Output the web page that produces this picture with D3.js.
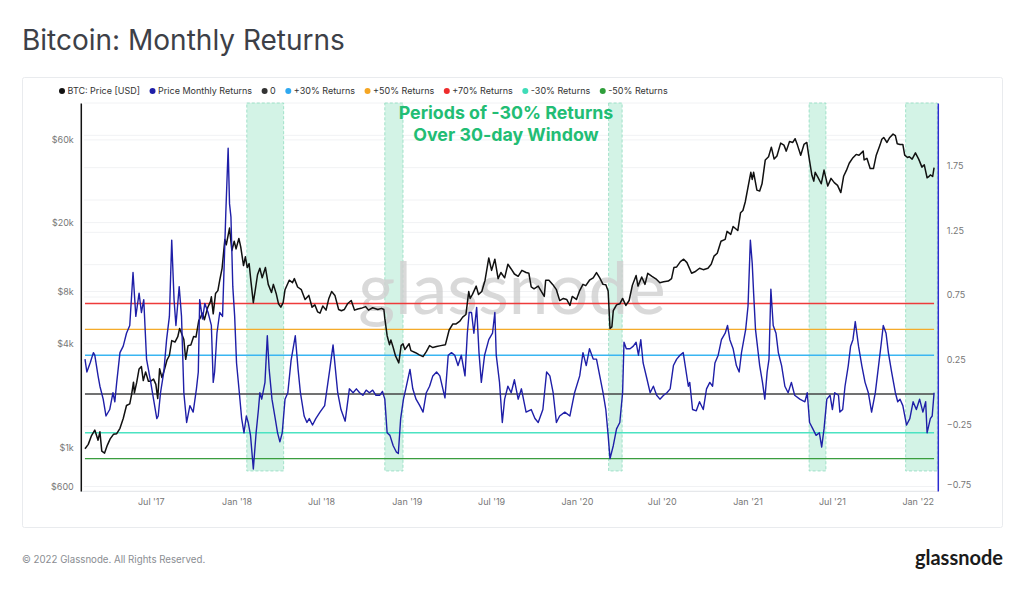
<!DOCTYPE html>
<html>
<head>
<meta charset="utf-8">
<script src="https://cdn.jsdelivr.net/npm/d3@7"></script>
<style>
  body { margin: 0; background: #fff; }
  svg { font-family: Inter, Roboto, "Noto Sans", sans-serif; }
</style>
</head>
<body>
<div id="chart"></div>
<script>
// BTC price (USD)
const pricePoints = [
  ["2017-02-10", 990], ["2017-02-17", 1050], ["2017-02-24", 1180], ["2017-03-03", 1270],
  ["2017-03-10", 1110], ["2017-03-14", 1240], ["2017-03-18", 960], ["2017-03-24", 935],
  ["2017-03-30", 1040], ["2017-04-05", 1130], ["2017-04-12", 1200], ["2017-04-19", 1210],
  ["2017-04-26", 1300], ["2017-05-03", 1480], ["2017-05-10", 1760], ["2017-05-17", 1800],
  ["2017-05-21", 2040], ["2017-05-25", 2400], ["2017-05-27", 2080], ["2017-06-01", 2400],
  ["2017-06-06", 2860], ["2017-06-11", 2950], ["2017-06-15", 2450], ["2017-06-20", 2750],
  ["2017-06-26", 2430], ["2017-07-01", 2430], ["2017-07-07", 2500], ["2017-07-12", 2330],
  ["2017-07-16", 1930], ["2017-07-20", 2870], ["2017-07-25", 2550], ["2017-07-31", 2880],
  ["2017-08-05", 3230], ["2017-08-10", 3420], ["2017-08-15", 4170], ["2017-08-22", 4090],
  ["2017-08-28", 4390], ["2017-09-01", 4900], ["2017-09-05", 4600], ["2017-09-10", 4230],
  ["2017-09-14", 3250], ["2017-09-19", 3900], ["2017-09-25", 3930], ["2017-10-01", 4400],
  ["2017-10-06", 4370], ["2017-10-12", 5440], ["2017-10-16", 5700], ["2017-10-20", 6000],
  ["2017-10-24", 5500], ["2017-10-31", 6450], ["2017-11-06", 7000], ["2017-11-08", 7460],
  ["2017-11-12", 5950], ["2017-11-17", 7800], ["2017-11-22", 8100], ["2017-11-26", 9300],
  ["2017-12-01", 10900], ["2017-12-07", 16000], ["2017-12-10", 14900], ["2017-12-17", 18600],
  ["2017-12-22", 13800], ["2017-12-27", 15600], ["2017-12-31", 14100], ["2018-01-06", 16200],
  ["2018-01-10", 14500], ["2018-01-16", 11300], ["2018-01-20", 12700], ["2018-01-24", 11000],
  ["2018-01-28", 11600], ["2018-02-01", 9100], ["2018-02-06", 6900], ["2018-02-10", 8100],
  ["2018-02-15", 10000], ["2018-02-20", 10900], ["2018-02-25", 9600], ["2018-03-04", 11000],
  ["2018-03-10", 8800], ["2018-03-17", 7900], ["2018-03-21", 8800], ["2018-03-27", 7800],
  ["2018-04-01", 6800], ["2018-04-06", 6500], ["2018-04-11", 6900], ["2018-04-15", 8200],
  ["2018-04-24", 9300], ["2018-05-01", 9000], ["2018-05-05", 9500], ["2018-05-12", 8500],
  ["2018-05-20", 8200], ["2018-05-28", 7200], ["2018-06-05", 7600], ["2018-06-12", 6500],
  ["2018-06-18", 6700], ["2018-06-24", 6100], ["2018-06-29", 6000], ["2018-07-05", 6600],
  ["2018-07-12", 6250], ["2018-07-18", 7300], ["2018-07-24", 8000], ["2018-07-31", 7600],
  ["2018-08-08", 6300], ["2018-08-14", 6200], ["2018-08-20", 6300], ["2018-08-27", 6800],
  ["2018-09-04", 7100], ["2018-09-11", 6250], ["2018-09-18", 6350], ["2018-09-25", 6400],
  ["2018-10-05", 6550], ["2018-10-11", 6250], ["2018-10-20", 6450], ["2018-10-31", 6300],
  ["2018-11-08", 6400], ["2018-11-13", 6300], ["2018-11-15", 5600], ["2018-11-20", 4450],
  ["2018-11-25", 3950], ["2018-11-28", 4200], ["2018-12-03", 3800], ["2018-12-08", 3400],
  ["2018-12-15", 3100], ["2018-12-20", 3900], ["2018-12-24", 4000], ["2018-12-28", 3700],
  ["2019-01-06", 4000], ["2019-01-10", 3650], ["2019-01-20", 3550], ["2019-01-28", 3450],
  ["2019-02-05", 3370], ["2019-02-12", 3600], ["2019-02-19", 3900], ["2019-02-26", 3800],
  ["2019-03-06", 3850], ["2019-03-15", 3900], ["2019-03-25", 3950], ["2019-04-02", 4800],
  ["2019-04-10", 5200], ["2019-04-17", 5200], ["2019-04-25", 5400], ["2019-05-01", 5700],
  ["2019-05-08", 5900], ["2019-05-14", 8000], ["2019-05-17", 7300], ["2019-05-22", 7700],
  ["2019-05-30", 8600], ["2019-06-04", 7700], ["2019-06-11", 8000], ["2019-06-18", 9300],
  ["2019-06-26", 12500], ["2019-07-02", 10600], ["2019-07-09", 12300], ["2019-07-16", 9500],
  ["2019-07-22", 10300], ["2019-07-30", 9600], ["2019-08-06", 11500], ["2019-08-13", 10800],
  ["2019-08-20", 10100], ["2019-08-28", 9800], ["2019-09-05", 10600], ["2019-09-14", 10300],
  ["2019-09-20", 10200], ["2019-09-25", 8500], ["2019-10-01", 8300], ["2019-10-10", 8600],
  ["2019-10-23", 7500], ["2019-10-26", 9300], ["2019-11-02", 9300], ["2019-11-10", 8800],
  ["2019-11-18", 8200], ["2019-11-25", 7100], ["2019-12-03", 7300], ["2019-12-10", 7200],
  ["2019-12-17", 6650], ["2019-12-22", 7500], ["2019-12-31", 7200], ["2020-01-07", 8100],
  ["2020-01-14", 8800], ["2020-01-20", 8650], ["2020-01-28", 9300], ["2020-02-05", 9600],
  ["2020-02-12", 10300], ["2020-02-19", 9600], ["2020-02-26", 8800], ["2020-03-03", 8750],
  ["2020-03-08", 8050], ["2020-03-12", 4900], ["2020-03-16", 5000], ["2020-03-19", 6200],
  ["2020-03-26", 6700], ["2020-04-02", 6800], ["2020-04-08", 7300], ["2020-04-15", 6650],
  ["2020-04-22", 7100], ["2020-04-29", 8700], ["2020-05-07", 9900], ["2020-05-11", 8600],
  ["2020-05-19", 9700], ["2020-05-26", 8800], ["2020-06-01", 10200], ["2020-06-10", 9800],
  ["2020-06-20", 9400], ["2020-06-27", 9000], ["2020-07-05", 9100], ["2020-07-15", 9200],
  ["2020-07-22", 9500], ["2020-07-27", 11000], ["2020-08-02", 11100], ["2020-08-10", 11900],
  ["2020-08-17", 12300], ["2020-08-24", 11750], ["2020-09-03", 10200], ["2020-09-10", 10400],
  ["2020-09-20", 10900], ["2020-09-28", 10700], ["2020-10-08", 10900], ["2020-10-15", 11500],
  ["2020-10-21", 12800], ["2020-10-28", 13300], ["2020-11-05", 15600], ["2020-11-14", 16000],
  ["2020-11-18", 17800], ["2020-11-26", 17100], ["2020-12-01", 19000], ["2020-12-11", 18000],
  ["2020-12-17", 22800], ["2020-12-22", 23500], ["2020-12-27", 26300], ["2021-01-02", 32000],
  ["2021-01-08", 39000], ["2021-01-11", 35500], ["2021-01-14", 39000], ["2021-01-21", 30800],
  ["2021-01-27", 30400], ["2021-02-01", 33500], ["2021-02-08", 46000], ["2021-02-15", 48000],
  ["2021-02-21", 54500], ["2021-02-27", 46500], ["2021-03-05", 48500], ["2021-03-13", 57500],
  ["2021-03-20", 56000], ["2021-03-25", 51700], ["2021-04-01", 58700], ["2021-04-08", 58000],
  ["2021-04-13", 61000], ["2021-04-18", 56000], ["2021-04-25", 49000], ["2021-05-02", 56500],
  ["2021-05-08", 58000], ["2021-05-12", 49000], ["2021-05-19", 37500], ["2021-05-23", 34700],
  ["2021-05-26", 39000], ["2021-06-01", 36500], ["2021-06-08", 33500], ["2021-06-14", 40200],
  ["2021-06-22", 32500], ["2021-06-29", 36000], ["2021-07-06", 34000], ["2021-07-13", 32800],
  ["2021-07-20", 29800], ["2021-07-26", 37000], ["2021-08-01", 40000], ["2021-08-07", 44000],
  ["2021-08-14", 47000], ["2021-08-22", 49500], ["2021-08-28", 48900], ["2021-09-06", 51700],
  ["2021-09-08", 46000], ["2021-09-14", 47000], ["2021-09-21", 41000], ["2021-09-28", 41000],
  ["2021-10-04", 49000], ["2021-10-12", 56000], ["2021-10-16", 60500], ["2021-10-20", 62000],
  ["2021-10-27", 58000], ["2021-11-02", 62000], ["2021-11-09", 64800], ["2021-11-14", 63500],
  ["2021-11-18", 57000], ["2021-11-24", 56500], ["2021-11-30", 56500], ["2021-12-04", 49000],
  ["2021-12-10", 47500], ["2021-12-14", 48000], ["2021-12-20", 46500], ["2021-12-27", 50500],
  ["2022-01-03", 46500], ["2022-01-10", 41800], ["2022-01-15", 43100], ["2022-01-21", 36300],
  ["2022-01-24", 36700], ["2022-01-28", 37700], ["2022-02-02", 36900], ["2022-02-05", 41500]
];

// Price monthly (30-day) returns
const returnPoints = [
  ["2017-02-10", 0.27], ["2017-02-14", 0.17], ["2017-02-21", 0.24], ["2017-02-28", 0.32],
  ["2017-03-03", 0.30], ["2017-03-10", 0.14], ["2017-03-14", 0.06], ["2017-03-21", -0.04],
  ["2017-03-27", -0.17], ["2017-04-04", -0.12], ["2017-04-11", 0.01], ["2017-04-15", -0.06],
  ["2017-04-19", 0.09], ["2017-04-26", 0.32], ["2017-05-03", 0.37], ["2017-05-10", 0.47],
  ["2017-05-17", 0.53], ["2017-05-24", 0.94], ["2017-05-30", 0.60], ["2017-06-06", 0.78],
  ["2017-06-11", 0.63], ["2017-06-16", 0.73], ["2017-06-22", 0.27], ["2017-06-26", 0.19],
  ["2017-07-01", 0.09], ["2017-07-07", -0.04], ["2017-07-14", -0.19], ["2017-07-17", -0.17],
  ["2017-07-22", 0.01], ["2017-07-29", 0.17], ["2017-08-04", 0.42], ["2017-08-10", 0.60],
  ["2017-08-15", 1.19], ["2017-08-20", 0.73], ["2017-08-24", 0.53], ["2017-08-31", 0.83],
  ["2017-09-05", 0.60], ["2017-09-10", 0.01], ["2017-09-16", -0.22], ["2017-09-23", -0.09],
  ["2017-09-30", -0.14], ["2017-10-07", 0.04], ["2017-10-11", 0.17], ["2017-10-14", 0.73],
  ["2017-10-20", 0.58], ["2017-10-25", 0.70], ["2017-11-01", 0.63], ["2017-11-08", 0.53],
  ["2017-11-12", 0.09], ["2017-11-15", 0.17], ["2017-11-20", 0.47], ["2017-11-26", 0.63],
  ["2017-12-02", 0.60], ["2017-12-09", 1.40], ["2017-12-14", 1.90], ["2017-12-17", 1.47],
  ["2017-12-20", 1.37], ["2017-12-24", 0.83], ["2017-12-28", 0.60], ["2018-01-01", 0.24],
  ["2018-01-07", 0.01], ["2018-01-12", -0.19], ["2018-01-17", -0.30], ["2018-01-22", -0.17],
  ["2018-01-26", -0.22], ["2018-01-31", -0.32], ["2018-02-06", -0.58], ["2018-02-12", -0.30],
  ["2018-02-17", -0.12], ["2018-02-20", 0.01], ["2018-02-24", -0.04], ["2018-03-03", 0.09],
  ["2018-03-08", 0.45], ["2018-03-12", 0.19], ["2018-03-18", -0.04], ["2018-03-25", -0.19],
  ["2018-03-30", -0.30], ["2018-04-04", -0.37], ["2018-04-09", -0.30], ["2018-04-15", -0.04],
  ["2018-04-21", 0.01], ["2018-04-28", 0.26], ["2018-05-07", 0.45], ["2018-05-13", 0.19],
  ["2018-05-18", 0.01], ["2018-05-26", -0.17], ["2018-06-01", -0.22], ["2018-06-06", -0.19],
  ["2018-06-13", -0.24], ["2018-06-20", -0.19], ["2018-06-29", -0.14], ["2018-07-09", -0.09],
  ["2018-07-20", 0.19], ["2018-07-27", 0.38], ["2018-08-06", 0.01], ["2018-08-13", -0.12],
  ["2018-08-22", -0.21], ["2018-08-31", 0.04], ["2018-09-08", 0.01], ["2018-09-15", 0.04],
  ["2018-09-22", 0.01], ["2018-09-29", -0.01], ["2018-10-06", 0.03], ["2018-10-13", 0.01],
  ["2018-10-20", 0.03], ["2018-10-27", -0.01], ["2018-11-04", -0.01], ["2018-11-10", 0.02],
  ["2018-11-15", -0.04], ["2018-11-20", -0.30], ["2018-11-26", -0.32], ["2018-12-03", -0.40],
  ["2018-12-10", -0.45], ["2018-12-14", -0.46], ["2018-12-19", -0.19], ["2018-12-25", -0.04],
  ["2018-12-30", 0.04], ["2019-01-08", 0.19], ["2019-01-14", 0.04], ["2019-01-21", -0.04],
  ["2019-01-29", -0.09], ["2019-02-05", -0.14], ["2019-02-12", 0.01], ["2019-02-19", 0.06],
  ["2019-02-26", 0.14], ["2019-03-06", 0.17], ["2019-03-13", 0.14], ["2019-03-24", -0.03],
  ["2019-03-31", 0.30], ["2019-04-07", 0.32], ["2019-04-14", 0.30], ["2019-04-21", 0.22],
  ["2019-04-28", 0.30], ["2019-05-06", 0.14], ["2019-05-11", 0.47], ["2019-05-15", 0.63],
  ["2019-05-20", 0.63], ["2019-05-25", 0.47], ["2019-05-31", 0.67], ["2019-06-05", 0.32],
  ["2019-06-10", 0.09], ["2019-06-17", 0.30], ["2019-06-26", 0.42], ["2019-07-04", 0.47],
  ["2019-07-09", 0.63], ["2019-07-12", 0.30], ["2019-07-19", 0.09], ["2019-07-25", -0.22],
  ["2019-07-30", -0.04], ["2019-08-06", 0.06], ["2019-08-13", 0.01], ["2019-08-20", 0.11],
  ["2019-08-28", -0.04], ["2019-09-04", 0.04], ["2019-09-14", -0.14], ["2019-09-25", -0.12],
  ["2019-10-03", -0.19], ["2019-10-10", -0.22], ["2019-10-20", -0.12], ["2019-10-28", 0.17],
  ["2019-11-04", 0.14], ["2019-11-11", 0.01], ["2019-11-18", -0.22], ["2019-11-25", -0.17],
  ["2019-12-06", -0.14], ["2019-12-17", -0.17], ["2019-12-27", 0.01], ["2020-01-07", 0.14],
  ["2020-01-14", 0.32], ["2020-01-21", 0.22], ["2020-01-28", 0.35], ["2020-02-05", 0.27],
  ["2020-02-12", 0.27], ["2020-02-19", 0.14], ["2020-02-26", 0.01], ["2020-03-03", -0.12],
  ["2020-03-08", -0.32], ["2020-03-12", -0.50], ["2020-03-19", -0.40], ["2020-03-26", -0.27],
  ["2020-04-02", -0.22], ["2020-04-08", 0.01], ["2020-04-11", 0.40], ["2020-04-16", 0.35],
  ["2020-04-24", 0.35], ["2020-05-01", 0.37], ["2020-05-07", 0.40], ["2020-05-12", 0.30],
  ["2020-05-17", 0.42], ["2020-05-22", 0.24], ["2020-05-30", 0.12], ["2020-06-06", 0.01],
  ["2020-06-13", 0.06], ["2020-06-20", -0.01], ["2020-06-27", -0.04], ["2020-07-05", -0.01],
  ["2020-07-12", 0.01], ["2020-07-19", 0.04], ["2020-07-26", 0.22], ["2020-08-02", 0.27],
  ["2020-08-09", 0.30], ["2020-08-16", 0.32], ["2020-08-27", 0.06], ["2020-08-30", 0.09],
  ["2020-09-05", -0.12], ["2020-09-13", -0.13], ["2020-09-20", -0.06], ["2020-09-28", -0.12],
  ["2020-10-05", 0.04], ["2020-10-12", 0.09], ["2020-10-18", 0.06], ["2020-10-23", 0.24],
  ["2020-10-30", 0.30], ["2020-11-06", 0.42], ["2020-11-14", 0.47], ["2020-11-19", 0.53],
  ["2020-11-24", 0.42], ["2020-12-01", 0.35], ["2020-12-08", 0.22], ["2020-12-14", 0.17],
  ["2020-12-19", 0.32], ["2020-12-24", 0.42], ["2020-12-28", 0.50], ["2021-01-02", 0.68],
  ["2021-01-07", 1.19], ["2021-01-11", 1.01], ["2021-01-14", 0.78], ["2021-01-18", 0.50],
  ["2021-01-27", 0.22], ["2021-02-02", 0.09], ["2021-02-07", -0.04], ["2021-02-12", 0.17],
  ["2021-02-16", 0.27], ["2021-02-20", 0.81], ["2021-02-25", 0.53], ["2021-03-03", 0.47],
  ["2021-03-08", 0.32], ["2021-03-15", 0.22], ["2021-03-22", 0.06], ["2021-03-29", 0.01],
  ["2021-04-05", 0.09], ["2021-04-12", -0.01], ["2021-04-23", -0.04], ["2021-05-04", -0.06],
  ["2021-05-09", 0.01], ["2021-05-14", -0.22], ["2021-05-21", -0.27], ["2021-05-28", -0.32],
  ["2021-06-04", -0.30], ["2021-06-09", -0.41], ["2021-06-14", -0.27], ["2021-06-20", -0.04],
  ["2021-06-27", -0.01], ["2021-07-02", -0.12], ["2021-07-07", 0.01], ["2021-07-15", -0.01],
  ["2021-07-18", -0.14], ["2021-07-24", -0.12], ["2021-07-29", 0.06], ["2021-08-05", 0.22],
  ["2021-08-10", 0.37], ["2021-08-15", 0.42], ["2021-08-20", 0.56], ["2021-08-27", 0.37],
  ["2021-09-03", 0.22], ["2021-09-10", 0.09], ["2021-09-17", 0.01], ["2021-09-24", -0.14],
  ["2021-10-02", 0.01], ["2021-10-09", 0.22], ["2021-10-15", 0.40], ["2021-10-19", 0.53],
  ["2021-10-25", 0.47], ["2021-10-30", 0.32], ["2021-11-06", 0.17], ["2021-11-14", 0.01],
  ["2021-11-19", -0.06], ["2021-11-24", -0.04], ["2021-11-30", -0.09], ["2021-12-08", -0.24],
  ["2021-12-15", -0.19], ["2021-12-22", -0.06], ["2021-12-29", -0.12], ["2022-01-05", -0.04],
  ["2022-01-12", -0.14], ["2022-01-18", -0.06], ["2022-01-21", -0.30], ["2022-01-28", -0.19],
  ["2022-02-01", -0.17], ["2022-02-05", 0.01]
];

// periods of -30% returns over a 30-day window
const bandPeriods = [
  ["2018-01-23", "2018-04-12"], ["2018-11-15", "2018-12-24"], ["2020-03-09", "2020-04-07"],
  ["2021-05-13", "2021-06-18"], ["2021-12-06", "2022-02-12"]
];
const bandValueRange = [-0.595, 2.25];

const refLevels = [0.7, 0.5, 0.3, 0, -0.3, -0.5];
const priceTicks = [600, 1000, 4000, 8000, 20000, 60000];
const priceTickLabels = ["$600", "$1k", "$4k", "$8k", "$20k", "$60k"];
const returnTicks = [-0.75, -0.25, 0.25, 0.75, 1.25, 1.75];
const xTickDates = ["2017-07-01", "2018-01-01", "2018-07-01", "2019-01-01", "2019-07-01",
  "2020-01-01", "2020-07-01", "2021-01-01", "2021-07-01", "2022-01-01"];
const legendLabels = ["BTC: Price [USD]", "Price Monthly Returns", "0", "+30% Returns",
  "+50% Returns", "+70% Returns", "-30% Returns", "-50% Returns"];

// styles
const legendColors = ["#111111", "#1f1fa8", "#333333", "#2fa8f0", "#f5a623", "#ee2c2c", "#3fdcb8", "#2f9e3a"];
const refColors = { "0.7": "#ee3b3b", "0.5": "#f5ab2a", "0.3": "#3ab6f2", "0": "#444444", "-0.3": "#4be3c2", "-0.5": "#3a9e3f" };

const parse = d3.utcParse("%Y-%m-%d");
const W = 1024, H = 590;
const m = { left: 80.8, right: 937.8, top: 103, bottom: 491 };

const svg = d3.select("#chart").append("svg")
  .attr("width", W).attr("height", H)
  .attr("viewBox", "0 0 " + W + " " + H);

svg.append("rect").attr("width", W).attr("height", H).attr("fill", "#fff");

// title
svg.append("text").text("Bitcoin: Monthly Returns")
  .attr("x", 22).attr("y", 50)
  .attr("font-size", 28).attr("fill", "#3d4047");

// card
svg.append("rect")
  .attr("x", 22.5).attr("y", 77.5).attr("width", 980).attr("height", 450)
  .attr("rx", 2).attr("fill", "#fff").attr("stroke", "#e9ebee");

const x = d3.scaleUtc()
  .domain([parse("2017-02-01"), parse("2022-02-13")])
  .range([m.left, m.right]);
const yPrice = d3.scaleLog().domain([565, 98000]).range([m.bottom, m.top]);
const yRet = d3.scaleLinear().domain([-0.75, 2.25]).range([m.bottom, m.top]);

// gridlines
const grid = svg.append("g");
grid.selectAll("line.r").data(d3.range(-0.75, 2.26, 0.25)).enter().append("line")
  .attr("x1", m.left + 3).attr("x2", m.right - 3)
  .attr("y1", d => yRet(d)).attr("y2", d => yRet(d))
  .attr("stroke", "#f1f2f4").attr("stroke-width", 1);
grid.selectAll("line.p").data(priceTicks).enter().append("line")
  .attr("x1", m.left + 3).attr("x2", m.right - 3)
  .attr("y1", d => yPrice(d)).attr("y2", d => yPrice(d))
  .attr("stroke", "#f1f2f4").attr("stroke-width", 1);

// x baseline
svg.append("line")
  .attr("x1", m.left).attr("x2", m.right)
  .attr("y1", m.bottom + 0.5).attr("y2", m.bottom + 0.5)
  .attr("stroke", "#e6e8eb");

// shaded periods
svg.append("g").selectAll("rect").data(bandPeriods).enter().append("rect")
  .attr("x", d => x(parse(d[0])))
  .attr("width", d => x(parse(d[1])) - x(parse(d[0])))
  .attr("y", yRet(bandValueRange[1]))
  .attr("height", yRet(bandValueRange[0]) - yRet(bandValueRange[1]))
  .attr("fill", "#d3f3e6")
  .attr("stroke", "#8fdcbf").attr("stroke-width", 0.8)
  .attr("stroke-dasharray", "3,2");

// watermark
svg.append("text").text("glassnode")
  .attr("x", 512).attr("y", 314)
  .attr("text-anchor", "middle")
  .attr("font-family", "Lato, sans-serif")
  .attr("font-size", 71)
  .attr("fill", "#d0d0d0").attr("opacity", 0.8);

const firstDate = parse(returnPoints[0][0]);
const lastDate = parse(returnPoints[returnPoints.length - 1][0]);

// reference levels
svg.append("g").selectAll("line").data(refLevels).enter().append("line")
  .attr("x1", x(firstDate)).attr("x2", x(lastDate))
  .attr("y1", d => yRet(d)).attr("y2", d => yRet(d))
  .attr("stroke", d => refColors[String(d)])
  .attr("stroke-width", 1.4);

// price line
const priceLine = d3.line()
  .x(d => x(parse(d[0])))
  .y(d => yPrice(d[1]));
svg.append("path").datum(pricePoints)
  .attr("d", priceLine)
  .attr("fill", "none").attr("stroke", "#111").attr("stroke-width", 1.5)
  .attr("stroke-linejoin", "round");

// returns line
const retLine = d3.line()
  .x(d => x(parse(d[0])))
  .y(d => yRet(d[1]));
svg.append("path").datum(returnPoints)
  .attr("d", retLine)
  .attr("fill", "none").attr("stroke", "#1f1fa8").attr("stroke-width", 1.4)
  .attr("stroke-linejoin", "round");

// left axis (price, log)
const leftAxis = svg.append("g")
  .attr("transform", "translate(" + m.left + ",0)")
  .call(d3.axisLeft(yPrice).tickValues(priceTicks)
    .tickFormat((d, i) => priceTickLabels[i]).tickSize(0).tickPadding(7));
leftAxis.select(".domain").attr("stroke", "#111").attr("stroke-width", 1.5);
leftAxis.selectAll("text").attr("font-size", 9).attr("fill", "#777").attr("font-family", "Inter, sans-serif");

// right axis (returns)
const rightAxis = svg.append("g")
  .attr("transform", "translate(" + m.right + ",0)")
  .call(d3.axisRight(yRet).tickValues(returnTicks)
    .tickFormat(d3.format(".2f")).tickSize(0).tickPadding(9));
rightAxis.select(".domain").attr("stroke", "#2b2bd0").attr("stroke-width", 1.5);
rightAxis.selectAll("text").attr("font-size", 9).attr("fill", "#777")
  .attr("font-family", "Inter, sans-serif")
  .attr("dy", d => d === -0.75 ? "-0.35em" : "0.1em");

// bottom axis
const fmt = d3.utcFormat("%b '%y");
const bottomAxis = svg.append("g")
  .attr("transform", "translate(0," + m.bottom + ")")
  .call(d3.axisBottom(x).tickValues(xTickDates.map(parse))
    .tickFormat(fmt).tickSize(0).tickPadding(8));
bottomAxis.select(".domain").remove();
bottomAxis.selectAll("text").attr("font-size", 9).attr("fill", "#777").attr("font-family", "Inter, sans-serif");

// legend
const legend = svg.append("g").attr("transform", "translate(62,91)");
let lx = 0;
legendLabels.forEach((label, i) => {
  const g = legend.append("g").attr("transform", "translate(" + lx + ",0)");
  g.append("circle").attr("r", 3).attr("cx", 0).attr("cy", 0).attr("fill", legendColors[i]);
  const t = g.append("text").text(label)
    .attr("x", 5.5).attr("y", 3.2)
    .attr("font-size", 9).attr("fill", "#333");
  lx += 5.5 + t.node().getComputedTextLength() + 12.5;
});

// annotation
const note = svg.append("text")
  .attr("text-anchor", "middle")
  .attr("font-size", 17.8).attr("font-weight", "bold")
  .attr("fill", "#22bd74");
note.append("tspan").attr("x", 506).attr("y", 119).text("Periods of -30% Returns");
note.append("tspan").attr("x", 506).attr("y", 141).text("Over 30-day Window");

// footer
svg.append("text").text("© 2022 Glassnode. All Rights Reserved.")
  .attr("x", 22).attr("y", 563)
  .attr("font-size", 9.7).attr("fill", "#8a8d92");
svg.append("text").text("glassnode")
  .attr("x", 1003).attr("y", 565)
  .attr("text-anchor", "end")
  .attr("font-family", "Lato, sans-serif").attr("font-weight", 700)
  .attr("font-size", 20).attr("fill", "#1b1b1b");
</script>
</body>
</html>
